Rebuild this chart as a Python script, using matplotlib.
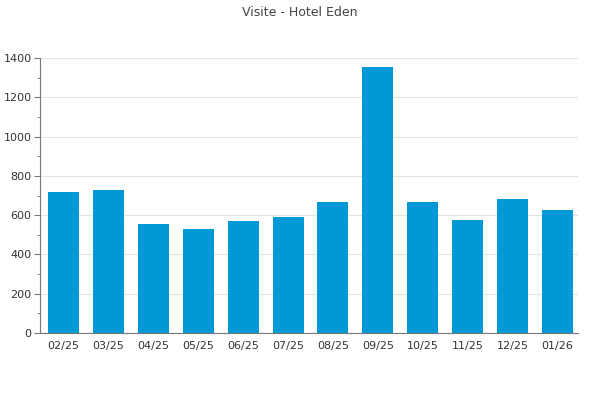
import matplotlib
matplotlib.use("Agg")
import matplotlib.pyplot as plt
from matplotlib.ticker import MultipleLocator

months = ["02/25", "03/25", "04/25", "05/25", "06/25", "07/25",
          "08/25", "09/25", "10/25", "11/25", "12/25", "01/26"]
visits = [718, 728, 555, 530, 570, 590, 667, 1354, 667, 575, 682, 626]

fig = plt.figure(figsize=(6, 4), dpi=100)
ax = fig.add_axes([0.0667, 0.1675, 0.8963, 0.6875])

x = range(len(months))
ax.bar(x, visits, width=0.69, color="#0099d6", zorder=2)

ax.set_xlim(-0.52, 11.45)
ax.set_ylim(0, 1400)
ax.yaxis.set_major_locator(MultipleLocator(200))
ax.yaxis.set_minor_locator(MultipleLocator(100))
ax.set_xticks(list(x))
ax.set_xticklabels(months)

ax.grid(axis="y", color="#e3e3e3", linewidth=0.8, zorder=0)
for side in ("top", "right"):
    ax.spines[side].set_visible(False)
for side in ("left", "bottom"):
    ax.spines[side].set_color("#777777")
    ax.spines[side].set_linewidth(0.8)

ax.tick_params(axis="y", which="major", length=4, color="#777777",
               labelsize=8, labelcolor="#333333", pad=2)
ax.tick_params(axis="y", which="minor", length=2, color="#777777")
ax.tick_params(axis="x", length=0, labelsize=8, labelcolor="#333333", pad=6)

fig.text(0.5, 0.97, "Visite - Hotel Eden", ha="center", va="center",
         fontsize=9, color="#444444")

fig.savefig("out.png", dpi=100)
